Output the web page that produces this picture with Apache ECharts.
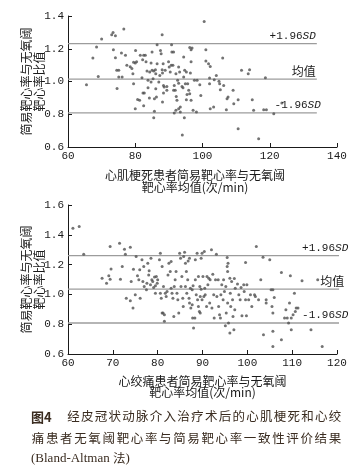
<!DOCTYPE html>
<html><head><meta charset="utf-8">
<script src="https://cdn.jsdelivr.net/npm/echarts@6/dist/echarts.min.js"></script>
<style>html,body{margin:0;padding:0;background:#fff}#c{width:363px;height:474px}</style>
</head><body><div id="c"></div>
<script>
// ---- Data ----
// Myocardial infarction group: [mean HR, ratio]
const miPoints = [
[65.5,0.98],[67.4,1.143],[68.5,1.21],[69.0,1.03],[70.0,1.26],[73.0,1.286],[73.4,1.30],[74.1,1.28],[76.6,1.32],[73.5,1.194],
[74.1,1.145],[74.5,1.068],[75.1,1.068],[74.6,0.958],[75.1,1.027],[76.1,1.027],[75.9,1.174],[77.1,1.16],[77.5,1.10],[78.5,1.09],
[79.0,1.08],[79.5,1.117],[80.0,1.113],[80.4,1.12],[80.1,1.19],[79.3,1.048],[79.5,0.987],[80.0,0.834],[81.5,1.16],[82.0,1.023],
[82.2,1.133],[82.5,1.16],[83.0,1.16],[82.3,0.93],[82.7,0.93],[81.3,0.885],[80.7,0.89],[82.5,0.852],[83.2,1.12],[83.5,1.064],
[83.8,1.007],[83.8,0.962],[84.2,0.90],[84.3,1.058],[84.7,1.113],[85.0,1.18],[84.7,0.997],[85.0,1.068],[85.3,1.017],[85.5,1.064],
[85.7,0.895],[85.7,0.818],[85.5,0.779],[86.0,1.072],[86.1,1.048],[86.5,1.109],[86.1,0.956],[86.3,0.905],[86.5,1.225],[87.0,0.997],
[87.3,1.037],[87.5,1.19],[87.7,1.17],[88.0,1.286],[88.0,1.072],[88.1,1.052],[88.3,1.109],[88.4,0.976],[88.4,0.93],[88.1,0.875],
[88.6,0.966],[88.9,1.068],[89.4,0.97],[89.4,0.946],[89.9,1.12],[90.1,1.088],[90.4,1.058],[90.8,1.225],[90.9,1.18],[91.4,1.18],
[90.7,1.099],[91.2,1.099],[91.4,0.946],[91.6,0.976],[91.9,0.946],[92.1,1.048],[92.2,0.909],[92.4,0.885],[92.9,1.088],[93.2,1.058],
[92.6,1.007],[92.9,0.99],[91.6,0.807],[92.1,0.824],[92.9,0.834],[93.4,0.844],[93.4,0.813],[93.9,0.97],[94.2,0.962],[94.0,0.673],
[94.4,1.15],[94.4,1.027],[94.6,0.779],[94.7,1.068],[95.2,1.058],[94.9,0.987],[95.4,0.92],[95.2,0.889],[95.6,0.987],[95.9,0.946],
[96.2,1.207],[96.6,1.194],[96.9,1.205],[96.6,1.12],[96.4,1.052],[96.2,0.925],[96.6,0.885],[97.2,0.824],[97.6,1.007],[98.4,1.007],
[98.2,0.813],[99.2,0.98],[99.5,0.915],[100.5,1.367],[101.0,1.194],[101.0,1.125],[101.8,1.109],[102.3,1.092],[102.1,1.021],[102.1,0.987],
[102.3,0.834],[103.3,0.844],[103.5,1.011],[104.1,1.037],[104.9,1.001],[105.1,0.987],[105.3,0.95],[106.0,1.143],[106.3,0.976],[107.3,0.895],
[107.6,0.905],[107.1,0.828],[109.1,0.946],[109.3,0.864],[110.6,0.889],[110.6,0.712],[111.6,1.068],[113.6,1.048],[114.0,1.072],[114.8,0.889],
[115.2,0.824],[116.7,0.651],[118.2,0.828],[119.0,0.828],[118.7,1.023],[121.2,0.803],[123.6,0.868]
];
// Angina group: [mean HR, ratio]
const anPoints = [
[61.1,1.444],[62.5,1.455],[63.5,1.27],[67.6,1.109],[68.6,1.075],[69.1,1.125],[69.4,1.321],[69.6,1.171],[69.4,1.102],[71.5,1.343],
[71.7,1.102],[72.1,1.187],[72.6,1.303],[72.8,1.27],[73.9,1.317],[73.0,0.975],[73.9,0.957],[74.1,1.087],[74.5,0.908],[74.6,1.169],
[75.0,0.997],[75.2,1.254],[75.5,1.125],[75.8,1.098],[76.0,1.165],[76.1,0.975],[76.5,1.232],[76.7,1.087],[76.9,1.187],[77.0,1.053],
[77.5,1.031],[77.6,1.075],[77.8,1.209],[78.0,1.131],[78.1,1.158],[78.4,1.064],[78.5,1.243],[78.7,1.098],[78.9,1.087],[79.1,1.046],
[79.3,1.116],[79.5,1.058],[79.7,1.12],[79.9,1.075],[80.0,1.098],[79.5,1.008],[80.4,1.232],[80.6,1.276],[80.6,1.008],[80.8,0.975],
[81.0,1.187],[81.0,0.875],[81.2,0.875],[81.5,0.864],[81.5,0.819],[81.3,1.053],[81.7,1.008],[81.9,0.986],[82.1,1.02],[82.3,1.131],
[82.5,1.209],[82.8,1.154],[83.0,1.042],[83.0,1.221],[83.2,1.008],[83.4,0.975],[83.6,0.852],[83.7,1.053],[83.9,1.098],[84.1,1.154],
[84.3,1.008],[84.5,0.964],[84.7,0.875],[84.9,1.276],[85.1,1.243],[85.2,1.053],[85.4,1.12],[85.6,0.975],[85.7,0.919],[85.8,1.254],
[86.0,1.283],[86.2,1.053],[86.2,1.209],[86.4,1.154],[86.5,1.008],[86.7,1.098],[86.8,1.225],[87.0,0.975],[87.1,1.243],[87.1,0.942],
[87.3,1.042],[87.4,0.908],[87.7,1.031],[87.7,0.931],[87.9,1.058],[88.0,0.774],[87.8,0.841],[88.3,0.841],[88.4,1.098],[88.4,1.232],
[88.6,0.997],[88.8,1.276],[88.9,0.964],[89.1,0.919],[89.1,1.12],[89.3,0.886],[89.4,1.053],[89.5,0.986],[89.5,0.875],[89.7,1.243],
[89.7,1.035],[89.9,1.276],[89.9,0.964],[90.1,1.12],[90.3,0.986],[90.4,1.288],[90.5,1.042],[90.6,0.997],[90.9,0.919],[91.0,1.12],
[91.2,1.064],[91.4,1.109],[91.6,0.942],[91.7,1.098],[92.0,1.299],[92.1,0.908],[92.3,1.136],[92.5,0.997],[92.6,0.841],[92.9,1.098],
[93.1,1.27],[93.2,0.986],[93.5,1.098],[93.6,0.919],[93.8,0.864],[94.0,0.841],[94.1,0.997],[94.3,1.064],[94.6,0.964],[94.7,1.098],
[94.9,1.02],[95.1,0.79],[95.2,1.053],[95.3,0.875],[95.5,1.247],[95.5,1.187],[95.6,1.154],[95.6,0.942],[95.7,1.209],[95.8,0.808],
[96.1,1.109],[96.1,0.741],[96.2,1.008],[96.3,0.919],[96.5,1.087],[96.7,0.964],[96.8,0.852],[97.0,0.763],[97.1,1.107],[97.2,0.897],
[97.3,1.042],[97.8,1.069],[98.1,0.997],[98.4,0.964],[98.6,1.046],[98.8,0.857],[99.2,1.064],[99.3,1.02],[99.6,1.214],[99.6,0.964],
[99.8,0.857],[99.9,1.064],[100.3,0.964],[100.7,0.997],[101.0,0.919],[101.6,0.997],[101.8,0.986],[102.0,1.321],[102.5,0.964],[103.0,1.098],
[103.5,1.25],[103.6,0.729],[104.2,0.964],[104.2,0.942],[105.0,1.232],[105.3,1.031],[105.7,1.031],[105.5,0.919],[105.7,0.875],[105.7,0.752],
[105.7,0.651],[106.0,0.98],[107.6,1.147],[107.6,0.696],[108.3,0.841],[108.6,0.897],[108.9,0.841],[109.2,0.808],[109.4,0.942],[109.6,1.125],
[109.8,0.841],[109.8,0.763],[110.2,0.864],[110.5,1.008],[110.7,0.886],[110.9,0.908],[111.3,0.908],[112.2,1.091],[114.2,0.763],[115.7,1.098],
[116.7,0.651]
];
// Limits of agreement: [+1.96SD, mean, -1.96SD]
const miLimits = [1.231, 1.015, 0.808];
const anLimits = [1.26, 1.035, 0.808];
// x extent of reference lines
const miLineX = [60, 134];
const anLineX = [60, 123.4];
const limitNames = ['+1.96', '均值', '-1.96'];
const miXTicks = [60, 140, 20];
const anXTicks = [60, 120, 10];
const miYTicks = [0.6, 1.4, 0.2];
const anYTicks = [0.6, 1.6, 0.2];
const miXName = '心肌梗死患者简易靶心率与无氧阈\n靶心率均值(次/min)';
const anXName = '心绞痛患者简易靶心率与无氧阈\n靶心率均值(次/min)';
const yName = '简易靶心率与无氧阈\n靶心率比值';
const captionLines = ['经皮冠状动脉介入治疗术后的心肌梗死和心绞', '痛患者无氧阈靶心率与简易靶心率一致性评价结果'];

// ---- Styles ----
const TXT = '#1a1a1a';
const MONO = '"Liberation Mono", monospace';
const CJK = '"Noto Sans CJK SC", sans-serif';
const chart = echarts.init(document.getElementById('c'), null, {renderer: 'canvas'});

function xAxisCfg(gi, t, name, pad, lh) {
  return {
    gridIndex: gi, type: 'value', min: t[0], max: t[1], interval: t[2],
    axisLine: {lineStyle: {color: TXT, width: 1}},
    axisTick: {inside: true, length: 4, lineStyle: {color: TXT}},
    axisLabel: {color: TXT, fontFamily: MONO, fontSize: 11, margin: 4},
    splitLine: {show: false},
    name: name, nameLocation: 'middle', nameGap: 22, nameMoveOverlap: false,
    nameTextStyle: {color: TXT, fontFamily: CJK, fontSize: 12, lineHeight: lh, padding: pad}
  };
}
function yAxisCfg(gi, t) {
  return {
    gridIndex: gi, type: 'value', min: t[0], max: t[1], interval: t[2],
    axisLine: {show: true, lineStyle: {color: TXT, width: 1}},
    axisTick: {show: true, inside: true, length: 4, lineStyle: {color: TXT}},
    axisLabel: {color: TXT, fontFamily: MONO, fontSize: 11, margin: 4, formatter: v => v.toFixed(1)},
    splitLine: {show: false},
    name: yName, nameLocation: 'middle', nameRotate: 90, nameGap: 22, nameMoveOverlap: false,
    nameTextStyle: {color: TXT, fontFamily: CJK, fontSize: 12, lineHeight: 13}
  };
}
function limitSeries(gi, limits, lx) {
  return limits.map(v => ({
    type: 'line', xAxisIndex: gi, yAxisIndex: gi, clip: false, silent: true,
    showSymbol: false, symbol: 'none', data: [[lx[0], v], [lx[1], v]],
    lineStyle: {color: '#9c9c9c', width: 1.3}, z: 1, animation: false
  }));
}

const option = {
  animation: false,
  backgroundColor: '#fff',
  grid: [
    {left: 68, top: 16, width: 269, height: 131},
    {left: 68, top: 205, width: 269, height: 149}
  ],
  xAxis: [xAxisCfg(0, miXTicks, miXName, [0, 15, 0, 0], 12), xAxisCfg(1, anXTicks, anXName, [0, 0, 0, 0], 11)],
  yAxis: [yAxisCfg(0, miYTicks), yAxisCfg(1, anYTicks)],
  series: [
    ...limitSeries(0, miLimits, miLineX),
    ...limitSeries(1, anLimits, anLineX),
    {type: 'scatter', xAxisIndex: 0, yAxisIndex: 0, data: miPoints, symbolSize: 3, itemStyle: {color: '#505050'}, z: 3},
    {type: 'scatter', xAxisIndex: 1, yAxisIndex: 1, data: anPoints, symbolSize: 3, itemStyle: {color: '#505050'}, z: 3}
  ]
};
chart.setOption(option);

// ---- limit labels positioned via the chart's own scales ----
const graphics = [];
function addLimitLabels(gi, limits, lx, dxs) {
  limits.forEach((v, i) => {
    const p = chart.convertToPixel({gridIndex: gi}, [lx[1], v]);
    const isMean = i === 1;
    graphics.push({
      type: 'text', x: p[0] + dxs[i], y: p[1] - 2, z: 10,
      style: isMean ? {
        text: limitNames[i], fill: TXT, font: '12px ' + CJK, textAlign: 'right', textVerticalAlign: 'bottom'
      } : {
        text: '{a|' + limitNames[i] + '}{b|SD}', textAlign: 'right', textVerticalAlign: 'bottom',
        rich: {
          a: {fill: TXT, fontFamily: MONO, fontSize: 11},
          b: {fill: TXT, fontFamily: MONO, fontSize: 11, fontStyle: 'italic'}
        }
      }
    });
  });
}
addLimitLabels(0, miLimits, miLineX, [-1, -1, 4]);
addLimitLabels(1, anLimits, anLineX, [-4, -8, -4]);

// ---- caption ----
const CAP = '#3a2c20';
graphics.push({type: 'text', x: 31, y: 416.7, style: {text: '图4', fill: CAP, font: 'bold 13px ' + CJK, textVerticalAlign: 'middle'}});
function justify(str, x0, x1, y) {
  const chars = Array.from(str);
  const pitch = (x1 - x0) / chars.length;
  chars.forEach((ch, i) => {
    graphics.push({type: 'text', x: x0 + i * pitch + pitch / 2, y: y,
      style: {text: ch, fill: CAP, font: '12.5px ' + CJK, textAlign: 'center', textVerticalAlign: 'middle'}});
  });
}
justify(captionLines[0], 66.5, 342, 416.7);
justify(captionLines[1], 31, 342, 438.3);
graphics.push({type: 'text', x: 31, y: 458.3, style: {
  text: '{a|(Bland-Altman }{b|法}{a|)}', textVerticalAlign: 'middle',
  rich: {a: {fill: CAP, fontFamily: '"Liberation Serif", serif', fontSize: 13}, b: {fill: CAP, fontFamily: CJK, fontSize: 12.5}}
}});

chart.setOption({graphic: graphics});
</script>
</body></html>
